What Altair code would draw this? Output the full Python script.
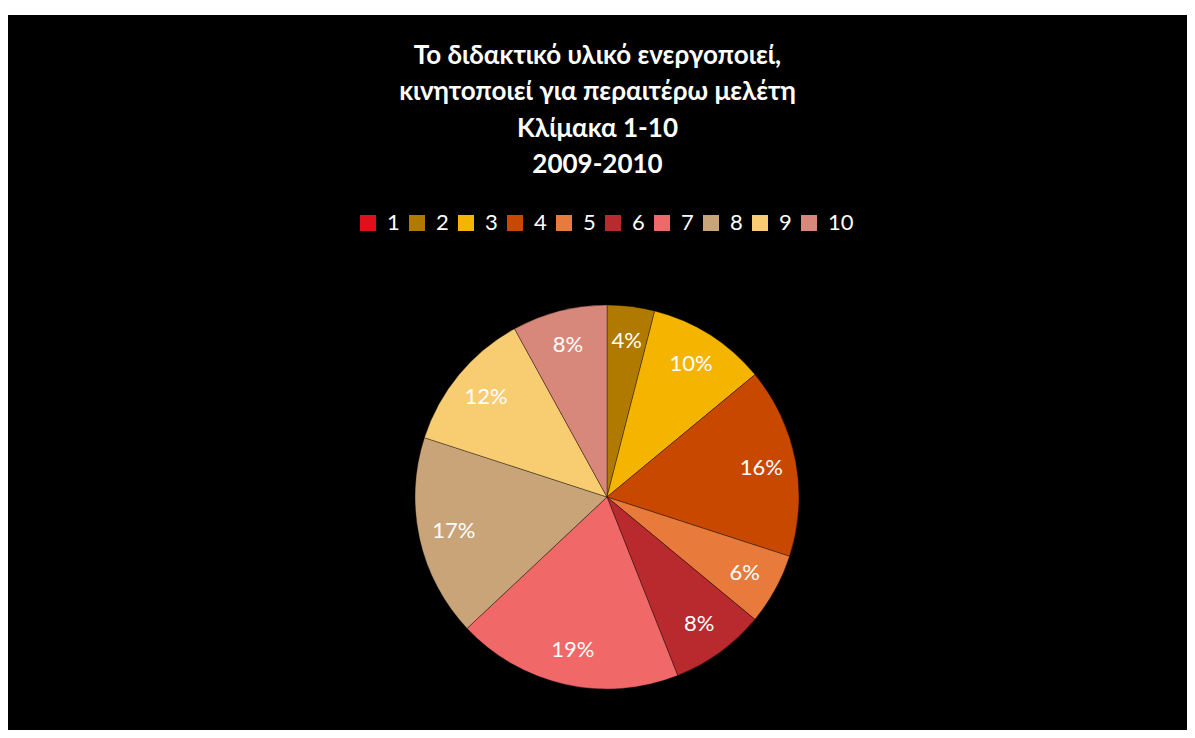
import altair as alt
import pandas as pd

categories = ["1", "2", "3", "4", "5", "6", "7", "8", "9", "10"]
values = [0, 4, 10, 16, 6, 8, 19, 17, 12, 8]
colors = ["#E0101A", "#B07A00", "#F5B400", "#C84800", "#E87A3C",
          "#B82A2E", "#F06868", "#C8A478", "#F8CC70", "#D8887A"]
title_lines = ["Το διδακτικό υλικό ενεργοποιεί,",
               "κινητοποιεί για περαιτέρω μελέτη",
               "Κλίμακα 1-10",
               "2009-2010"]

df = pd.DataFrame({"cat": categories, "value": values,
                   "order": list(range(1, len(categories) + 1))})
df["label"] = [f"{v}%" for v in values]

base = alt.Chart(df).encode(
    theta=alt.Theta("value:Q", stack=True),
    order=alt.Order("order:Q"),
)

pie = base.mark_arc(radius=192, stroke="#000000", strokeOpacity=0.35,
                    strokeWidth=1).encode(
    x=alt.value(599), y=alt.value(482),
    color=alt.Color(
        "cat:N",
        scale=alt.Scale(domain=categories, range=colors),
        sort=categories,
        legend=alt.Legend(
            title=None, orient="none", legendX=349, legendY=197,
            direction="horizontal", columns=10, gridAlign="none",
            symbolType="square", symbolSize=256, symbolStrokeWidth=0,
            symbolOpacity=1, labelFontSize=22, labelFont="Lato",
            labelColor="white", labelOffset=8, columnPadding=6,
        ),
    ),
)

labels = base.mark_text(radius=157, fontSize=22, font="Lato",
                        color="white").encode(
    x=alt.value(599), y=alt.value(482),
    text="label:N",
).transform_filter("datum.value > 0")

chart = alt.layer(pie, labels).properties(
    width=1179, height=715, autosize="none",
    padding={"top": 7, "left": 0, "right": 0, "bottom": 0},
    background="white",
    title=alt.TitleParams(
        text=title_lines, fontSize=26, font="Lato", fontWeight="bold",
        color="white", lineHeight=36.5, anchor="middle", frame="group",
        offset=-184, baseline="alphabetic",
    ),
).configure_view(fill="black", strokeWidth=0)

chart.save("out.html", embed_options={"renderer": "svg", "actions": False})
